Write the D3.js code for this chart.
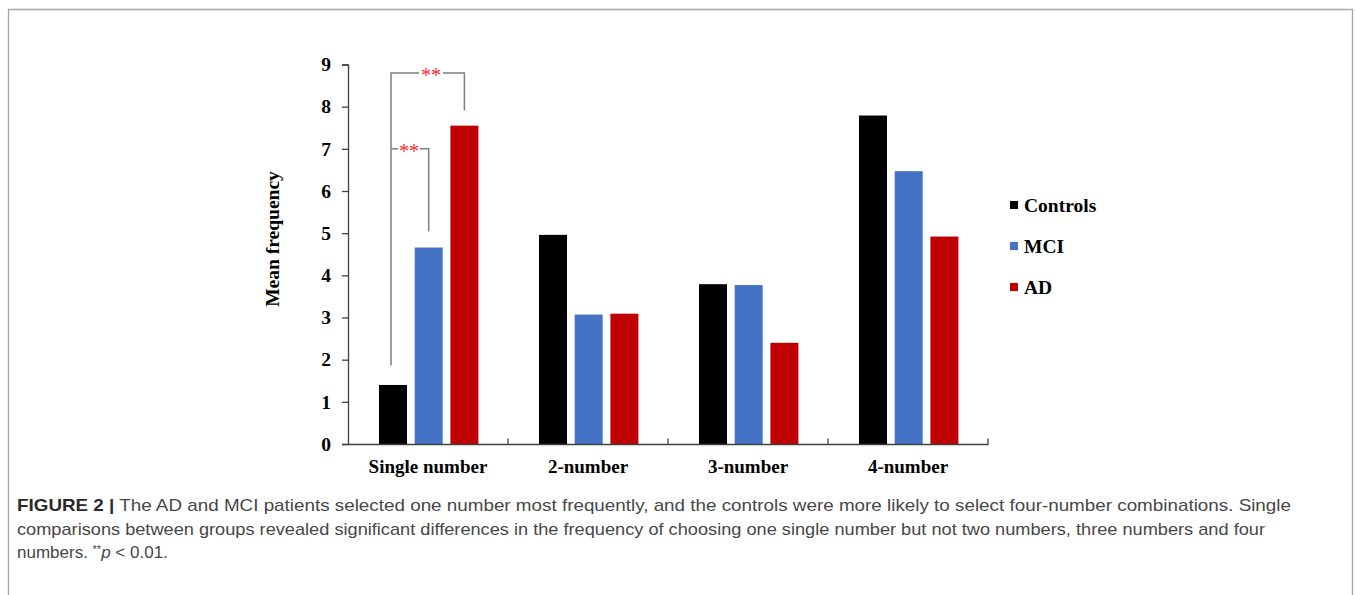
<!DOCTYPE html>
<html><head><meta charset="utf-8">
<script src="https://cdn.jsdelivr.net/npm/d3@7"></script>
<style>html,body{margin:0;padding:0;background:#fff;}svg{display:block;}</style>
</head><body>
<svg id="chart" width="1356" height="595"></svg>
<script>
const categories = ["Single number", "2-number", "3-number", "4-number"];
const seriesNames = ["Controls", "MCI", "AD"];
const controls = [1.40, 4.96, 3.79, 7.79];
const mci = [4.66, 3.07, 3.77, 6.47];
const ad = [7.55, 3.09, 2.40, 4.92];
const yTicks = [0, 1, 2, 3, 4, 5, 6, 7, 8, 9];
const colors = ["#000000", "#4472C4", "#C00000"];
const captionLines = [
  ["FIGURE 2 | ", " The AD and MCI patients selected one number most frequently, and the controls were more likely to select four-number combinations. Single"],
  ["", "comparisons between groups revealed significant differences in the frequency of choosing one single number but not two numbers, three numbers and four"]
];

const svg = d3.select("#chart");
const serif = "'Liberation Serif','Times New Roman',serif";
const sans = "'Liberation Sans',Arial,sans-serif";

// frame
svg.append("path").attr("d", "M8.5,595 V9.5 H1352.5 V595").attr("fill", "none").attr("stroke", "#a6a6a6").attr("stroke-width", 1.3);

const x = d3.scaleBand().domain(categories).range([348, 988]).padding(0);
const xs = d3.scaleBand().domain(seriesNames).range([31, 130.4]).paddingInner(0.216).paddingOuter(0);
const y = d3.scaleLinear().domain([0, 9]).range([444, 64.5]);

const data = [controls, mci, ad];

// bars
seriesNames.forEach((s, si) => {
  svg.append("g").selectAll("rect").data(categories).join("rect")
    .attr("x", c => x(c) + xs(s))
    .attr("width", xs.bandwidth())
    .attr("y", (c, i) => y(data[si][i]))
    .attr("height", (c, i) => y(0) - y(data[si][i]))
    .attr("fill", colors[si]);
});

// y axis
const yAxis = svg.append("g").attr("transform", "translate(348,0)")
  .call(d3.axisLeft(y).tickValues(yTicks).tickFormat(d3.format("d")).tickSize(6).tickPadding(11));
yAxis.select(".domain").attr("stroke", "#404040").attr("stroke-width", 1.3);
yAxis.selectAll(".tick line").attr("stroke", "#404040").attr("stroke-width", 1.3);
yAxis.selectAll(".tick text").attr("font-family", serif).attr("font-weight", "bold").attr("font-size", 19.5).attr("fill", "#000");

// x axis
const xAxis = svg.append("g").attr("transform", "translate(0,444)")
  .call(d3.axisBottom(x).tickSize(0).tickPadding(16));
xAxis.select(".domain").attr("stroke", "#404040").attr("stroke-width", 1.3);
xAxis.selectAll(".tick text").attr("font-family", serif).attr("font-weight", "bold").attr("font-size", 19).attr("fill", "#000");
// inward tick marks at category boundaries
svg.append("g").selectAll("line").data(categories).join("line")
  .attr("x1", c => x(c) + x.bandwidth()).attr("x2", c => x(c) + x.bandwidth())
  .attr("y1", 444).attr("y2", 438.5).attr("stroke", "#404040").attr("stroke-width", 1.3);

// y title
svg.append("text").attr("transform", "translate(279,239) rotate(-90)")
  .attr("text-anchor", "middle").attr("font-family", serif).attr("font-weight", "bold").attr("font-size", 19.5)
  .text("Mean frequency");

// legend
const leg = svg.append("g");
seriesNames.forEach((s, i) => {
  const ly = 205 + i * 41;
  leg.append("rect").attr("x", 1010).attr("y", ly - 4).attr("width", 8).attr("height", 8).attr("fill", colors[i]);
  leg.append("text").attr("x", 1024).attr("y", ly + 6.5).attr("font-family", serif).attr("font-weight", "bold").attr("font-size", 19.5).text(s);
});

// significance brackets
const c0 = categories[0];
const cx = s => x(c0) + xs(s) + xs.bandwidth() / 2;
const br = svg.append("g").attr("fill", "none").attr("stroke", "#7f7f7f").attr("stroke-width", 1.5);
const leftX = cx("Controls") - 2;
const yTop = y(8.8), yIn = y(7.0);
br.append("path").attr("d", `M${leftX},${y(controls[0] + 0.47)} V${yTop} H${leftX + 28}`);
br.append("path").attr("d", `M${leftX + 52},${yTop} H${cx("AD")} V${y(ad[0] + 0.36)}`);
br.append("path").attr("d", `M${leftX},${yIn} H${leftX + 7}`);
br.append("path").attr("d", `M${leftX + 29},${yIn} H${cx("MCI")} V${y(mci[0] + 0.38)}`);
svg.append("text").attr("x", leftX + 40).attr("y", yTop + 9).attr("text-anchor", "middle")
  .attr("font-family", serif).attr("font-size", 20).attr("fill", "#ff2a2a").text("**");
svg.append("text").attr("x", leftX + 18).attr("y", yIn + 9).attr("text-anchor", "middle")
  .attr("font-family", serif).attr("font-size", 20).attr("fill", "#ff2a2a").text("**");

// caption
const capY = [511, 534.5, 558];
const cap = svg.append("g").attr("font-family", sans).attr("font-size", 17).attr("fill", "#474747");
const t1 = cap.append("text").attr("x", 17).attr("y", capY[0]);
t1.append("tspan").attr("font-weight", "bold").attr("fill", "#2a2a2a").text("FIGURE 2 |");
t1.append("tspan").text(captionLines[0][1]);
t1.attr("textLength", 1274).attr("lengthAdjust", "spacingAndGlyphs");
cap.append("text").attr("x", 17).attr("y", capY[1]).text(captionLines[1][1])
  .attr("textLength", 1248).attr("lengthAdjust", "spacingAndGlyphs");
const t3 = cap.append("text").attr("x", 17).attr("y", capY[2]);
t3.append("tspan").text("numbers. ");
t3.append("tspan").attr("font-size", 11).attr("dy", -5).text("**");
t3.append("tspan").attr("font-style", "italic").attr("dy", 5).text("p");
t3.append("tspan").text(" < 0.01.");
</script>
</body></html>
